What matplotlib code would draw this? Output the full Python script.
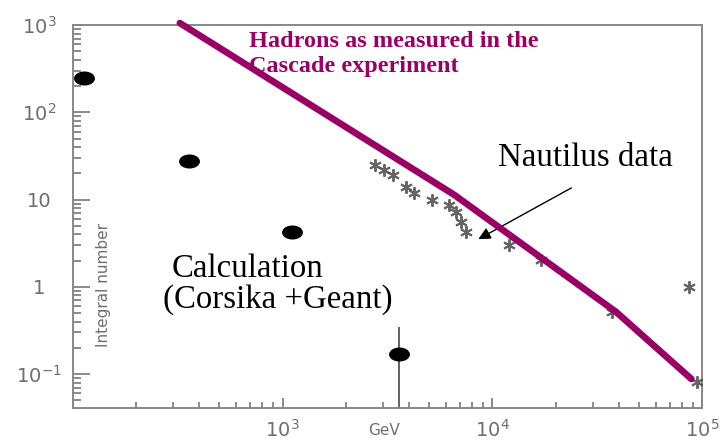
import numpy as np
import matplotlib
matplotlib.use("Agg")
import matplotlib.pyplot as plt
from matplotlib.path import Path
from matplotlib.ticker import LogLocator, NullFormatter

# Calculation (Corsika + Geant), energy in GeV vs integral number
calc_e = [113, 357, 1104, 3606]
calc_n = [250, 27.6, 4.24, 0.170]
calc_err_lo = [0, 0, 0, 0.165]
calc_err_hi = [0, 0, 0, 0.176]

# Nautilus data points
naut_e = [2743, 3060, 3342, 3892, 4253, 5178, 6237, 6740, 7117, 7519,
          12050, 17100, 37270, 86700, 94700]
naut_n = [24.8, 21.8, 19.1, 13.9, 11.9, 9.9, 8.6, 7.2, 5.5, 4.2,
          3.0, 2.03, 0.51, 0.99, 0.081]

# Cascade experiment hadron curve
casc_e = [324, 6590, 38900, 88700]
casc_n = [1054, 11.3, 0.514, 0.088]

y_ticks = [0.1, 1, 10, 100, 1000]
y_labels = [r"$10^{-1}$", "1", "10", r"$10^{2}$", r"$10^{3}$"]
x_ticks = [1e3, 1e4, 1e5]
x_labels = [r"$10^{3}$", r"$10^{4}$", r"$10^{5}$"]

PURPLE = "#990066"
GREY = "#6e6e6e"
SERIF = "Liberation Serif"

fig = plt.figure(figsize=(7.27, 4.4), dpi=100)
ax = fig.add_axes([0.100, 0.073, 0.866, 0.870])
ax.set_xscale("log")
ax.set_yscale("log")
ax.set_xlim(100, 1e5)
ax.set_ylim(0.041, 1000)

# elliptical dot marker
circ = Path.unit_circle()
ellipse = Path(circ.vertices * [1.0, 0.65], circ.codes)

ax.errorbar(calc_e, calc_n, yerr=[calc_err_lo, calc_err_hi], fmt="none",
            ecolor="#555555", elinewidth=1.3, capsize=0, zorder=2)
ax.plot(calc_e, calc_n, linestyle="none", marker=ellipse, markersize=14,
        color="black", zorder=3, clip_on=False)

ax.plot(naut_e, naut_n, linestyle="none", marker=(6, 2, 0), markersize=9,
        markeredgewidth=1.4, color="#4a4a4a", alpha=0.85, zorder=3)

ax.plot(casc_e, casc_n, color=PURPLE, linewidth=4.8, solid_capstyle="round",
        solid_joinstyle="round", zorder=4, clip_on=False)

# axes styling
for s in ax.spines.values():
    s.set_color("#888888")
    s.set_linewidth(1.4)

ax.set_yticks(y_ticks)
ax.set_yticklabels(y_labels)
ax.set_xticks(x_ticks)
ax.set_xticklabels(x_labels)
ax.yaxis.set_minor_locator(LogLocator(base=10, subs=np.arange(2, 10), numticks=20))
ax.xaxis.set_minor_locator(LogLocator(base=10, subs=np.arange(2, 10), numticks=20))
ax.xaxis.set_minor_formatter(NullFormatter())
ax.yaxis.set_minor_formatter(NullFormatter())

ax.tick_params(axis="y", which="major", direction="in", length=12, width=1.2,
               color="#777777", labelcolor=GREY, labelsize=14, pad=24)
ax.tick_params(axis="y", which="minor", direction="in", length=6, width=1.2,
               color="#777777")
ax.tick_params(axis="x", which="major", direction="in", length=7, width=1.2,
               color="#777777", labelcolor=GREY, labelsize=14, pad=8)
ax.tick_params(axis="x", which="minor", direction="in", length=4, width=1.2,
               color="#777777")
for lab in ax.get_yticklabels():
    lab.set_horizontalalignment("center")

ax.text(3060, -0.06, "GeV", transform=ax.get_xaxis_transform(),
        ha="center", va="center", fontsize=11, color=GREY)

ax.text(0.049, 0.321, "Integral number", transform=ax.transAxes, rotation=90,
        ha="center", va="center", fontsize=11, color=GREY)

# annotations
fig.text(249 / 727, 1 - 47 / 440, "Hadrons as measured in the",
         family=SERIF, fontweight="bold", fontsize=17.5,
         color=PURPLE, va="baseline", ha="left")
fig.text(249 / 727, 1 - 72 / 440, "Cascade experiment",
         family=SERIF, fontweight="bold", fontsize=17.5,
         color=PURPLE, va="baseline", ha="left")

fig.text(498 / 727, 1 - 166 / 440, "Nautilus data", family=SERIF,
         fontsize=23.7, color="black", va="baseline", ha="left")
fig.text(172 / 727, 1 - 277 / 440, "Calculation", family=SERIF,
         fontsize=23.7, color="black", va="baseline", ha="left")
fig.text(163 / 727, 1 - 308 / 440, "(Corsika +Geant)", family=SERIF,
         fontsize=23.7, color="black", va="baseline", ha="left")

ax.annotate("", xy=(8570, 3.52), xytext=(23770, 13.6),
            arrowprops=dict(arrowstyle="-|>", color="black", lw=1.0,
                            mutation_scale=18, shrinkA=0, shrinkB=0))

fig.savefig("out.png", dpi=100)
